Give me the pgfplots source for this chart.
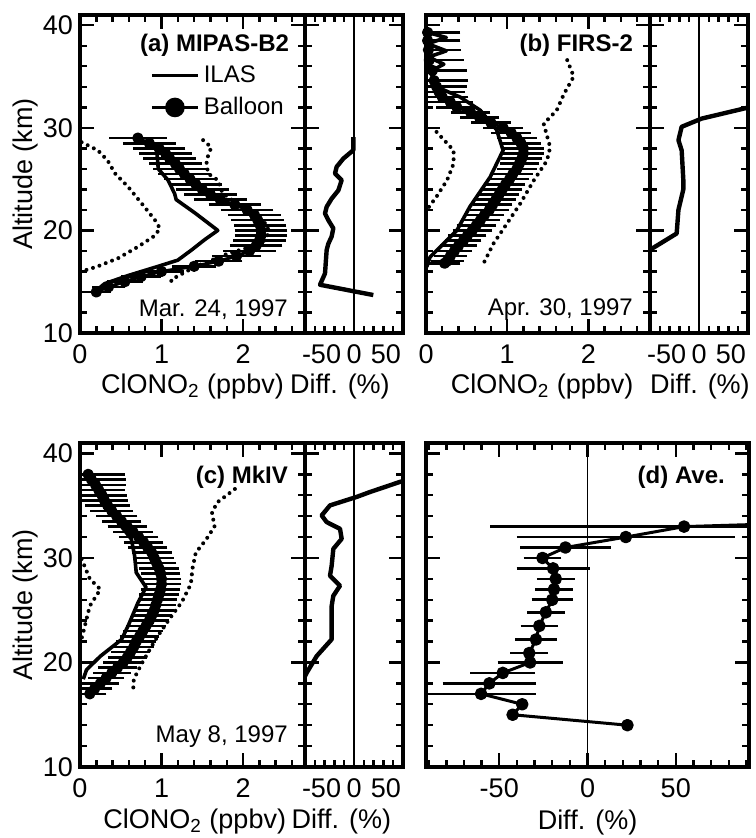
\documentclass[border=0pt]{standalone}
\usepackage{fontspec}
\setmainfont{Liberation Sans}
\usepackage{pgfplots}
\pgfplotsset{compat=1.18}
\newcommand{\tfont}{\fontsize{13.5}{15}\selectfont}
\newcommand{\afont}{\fontsize{12}{14}\selectfont}
\pgfplotsset{
  base/.style={scale only axis, ymin=10, ymax=41, tick align=inside,
    axis line style={line width=1.8pt},
    every tick/.style={line width=1.2pt, black},
    major tick length=7pt, minor tick length=3.5pt,
    ytick={10,20,30,40}, minor ytick={12,14,16,18,22,24,26,28,32,34,36,38},
    /pgf/number format/assume math mode=true,
    ticklabel style={font=\tfont},
    xticklabel style={yshift=-2.5pt}},
  noylab/.style={yticklabels={{},{},{},{}}},
  mainp/.style={base, width=112.5pt, height=#1, xmin=0, xmax=2.76, xtick={0,1,2},
    minor xtick={0.2,0.4,0.6,0.8,1.2,1.4,1.6,1.8,2.2,2.4,2.6},
    xlabel={ClONO\textsubscript{2} (ppbv)}},
  diffp/.style={base, noylab, width=49pt, height=#1, xmin=-50, xmax=50, xtick={-50,0,50},
    xticklabels={\makebox[0pt][l]{\hspace{-1.5pt}-50},0,\makebox[0pt][r]{50\hspace{1pt}}},
    minor xtick={-40,-30,-20,-10,10,20,30,40}, xlabel={Diff. (\%)}},
  ilas/.style={line width=1.8pt, black, line join=round},
  dots/.style={line width=2pt, black, dash pattern=on 0pt off 3.4pt, line cap=round},
  balloon/.style={line width=1.6pt, black, line join=round, mark=*, mark size=2pt,
    error bars/x dir=both, error bars/x explicit,
    error bars/error bar style={line width=1.3pt},
    error bars/error mark options={line width=1.3pt, mark size=5pt}},
  diffline/.style={line width=2.2pt, black, line join=round},
  zline/.style={line width=0.9pt, black},
  ylab/.style={ylabel={Altitude (km)}, every axis y label/.style={at={(rel axis cs:-0.244,0.5)}, rotate=90, anchor=center, font=\tfont}},
  xlab/.style 2 args={every axis x label/.style={at={(rel axis cs:#1,#2)}, anchor=center, font=\tfont}},
}
\begin{document}
\begin{tikzpicture}
\path[use as bounding box] (0pt,0pt) rectangle (377.5pt,419pt);
% ---------------- (a) main
\begin{axis}[mainp=159pt, at={(40pt,252.5pt)}, anchor=south west, ylab, xlab={0.5}{-0.167},
  legend style={draw=none, fill=none, at={(rel axis cs:0.31,0.855)}, anchor=north west, font=\afont, row sep=2pt, inner sep=0pt, cells={anchor=west}},
  legend image code/.code={\draw[mark repeat=2,mark phase=2,#1] plot coordinates {(0pt,0pt) (11.5pt,0pt) (23pt,0pt)};}]
\addlegendimage{line width=1.8pt, black}
\addlegendentry{ILAS}
\addlegendimage{line width=1.8pt, black, mark=*, mark size=4pt}
\addlegendentry{Balloon}
\addplot[dots, forget plot] coordinates {(0.02,28.6) (0.22,27.8) (0.34,26.8) (0.43,25.55) (0.59,24.25) (0.79,22.3) (0.92,21.0) (0.98,20.2) (0.92,19.5) (0.71,18.4) (0.47,17.3) (0.22,16.5) (0.02,16.0)};
\addplot[dots, forget plot] coordinates {(1.51,28.8) (1.61,28.1) (1.55,26.8) (1.57,25.55) (1.69,24.9) (1.75,23.6) (1.95,22.5) (2.15,21.5) (2.30,20.5) (2.31,19.7) (2.27,19.05) (2.10,18.4) (1.82,17.76) (1.41,16.45) (1.12,15.2) (1.12,14.5)};
\addplot[ilas, forget plot] coordinates {(0.85,28.6) (0.94,28.0) (0.96,26.0) (1.08,24.9) (1.16,23.6) (1.18,23.0) (1.41,21.7) (1.69,20.0) (1.53,19.1) (1.37,18.1) (1.20,17.1) (0.96,16.5) (0.59,15.6) (0.30,14.8) (0.18,14.0)};
\addplot[balloon, forget plot] coordinates {
(0.71,29.0) +- (0.23,0) (0.85,28.5) +- (0.2,0) (0.97,28.0) +- (0.2,0) (1.05,27.5) +- (0.2,0)
(1.10,27.0) +- (0.2,0) (1.17,26.5) +- (0.2,0) (1.22,26.0) +- (0.2,0) (1.28,25.5) +- (0.2,0)
(1.35,25.0) +- (0.2,0) (1.42,24.5) +- (0.2,0) (1.50,24.0) +- (0.2,0) (1.60,23.5) +- (0.2,0)
(1.72,23.0) +- (0.2,0) (1.90,22.5) +- (0.2,0) (2.05,22.0) +- (0.2,0) (2.14,21.5) +- (0.2,0)
(2.18,21.0) +- (0.2,0) (2.21,20.5) +- (0.2,0) (2.22,20.0) +- (0.2,0) (2.22,19.5) +- (0.2,0)
(2.20,19.0) +- (0.2,0) (2.16,18.5) +- (0.2,0) (2.08,18.0) +- (0.2,0) (1.92,17.5) +- (0.18,0)
(1.70,17.0) +- (0.17,0) (1.40,16.5) +- (0.15,0) (1.00,16.0) +- (0.15,0) (0.75,15.5) +- (0.12,0)
(0.55,15.0) +- (0.1,0) (0.35,14.5) +- (0.08,0) (0.20,14.0) +- (0.06,0)};
\node[font=\bfseries\afont, anchor=east] at (rel axis cs:0.96,0.906) {(a) MIPAS-B2};
\node[font=\afont, anchor=east] at (rel axis cs:0.955,0.072) {Mar. 24, 1997};
\end{axis}
% ---------------- (a) diff
\begin{axis}[diffp=159pt, at={(152.5pt,252.5pt)}, anchor=south west, xlab={0.357}{-0.167}]
\addplot[zline] coordinates {(0,10) (0,41)};
\addplot[diffline] coordinates {(-0.7,29.1) (-0.7,27.82) (-10.9,27.0) (-17.7,26.2) (-19.4,25.55) (-12.6,24.9) (-16.0,23.9) (-22.8,23.1) (-27.9,22.3) (-29.6,21.65) (-26.2,21.0) (-21.1,20.2) (-22.8,19.4) (-26.2,18.7) (-27.9,18.1) (-29.6,15.8) (-34.7,14.7) (19.7,13.7)};
\end{axis}
% ---------------- (b) main
\begin{axis}[mainp=159pt, width=112pt, at={(213pt,252.5pt)}, anchor=south west, noylab, xlab={0.518}{-0.167}]
\addplot[dots] coordinates {(0.13,29.6) (0.34,27.8) (0.34,26.5) (0.26,24.9) (0.13,23.3) (0.01,22.0)};
\addplot[dots] coordinates {(1.74,36.6) (1.82,35.0) (1.70,33.3) (1.61,31.7) (1.45,30.4) (1.53,28.1) (1.49,26.8) (1.33,24.9) (1.16,22.6) (1.0,20.7) (0.83,18.7) (0.71,16.8)};
\addplot[ilas] coordinates {(0.02,39.3) (0.25,38.8) (0.02,38.2) (0.25,37.5) (0.03,36.9) (0.22,36.2) (0.05,35.5) (0.13,34.0) (0.42,33.0) (0.67,31.7) (0.87,29.8) (0.95,27.8) (0.79,25.2) (0.54,22.3) (0.38,20.0) (0.26,19.05) (0.05,17.4) (0.01,16.45)};
\addplot[balloon] coordinates {
(0.02,39.3) +- (0.28,0) (0.02,38.5) +- (0.28,0) (0.03,37.6) +- (0.28,0) (0.04,36.6) +- (0.3,0)
(0.08,35.6) +- (0.3,0) (0.10,34.6) +- (0.3,0) (0.13,34.0) +- (0.25,0) (0.16,33.5) +- (0.2,0)
(0.20,33.0) +- (0.2,0) (0.30,32.5) +- (0.15,0) (0.38,32.0) +- (0.13,0) (0.55,31.5) +- (0.12,0)
(0.66,31.0) +- (0.12,0) (0.80,30.5) +- (0.12,0) (0.95,30.0) +- (0.12,0) (1.05,29.5) +- (0.12,0)
(1.12,29.0) +- (0.12,0) (1.17,28.5) +- (0.12,0) (1.20,28.0) +- (0.13,0) (1.20,27.5) +- (0.13,0)
(1.18,27.0) +- (0.13,0) (1.15,26.5) +- (0.12,0) (1.12,26.0) +- (0.12,0) (1.07,25.5) +- (0.12,0)
(1.03,25.0) +- (0.12,0) (0.98,24.5) +- (0.12,0) (0.94,24.0) +- (0.12,0) (0.90,23.5) +- (0.12,0)
(0.86,23.0) +- (0.12,0) (0.82,22.5) +- (0.12,0) (0.78,22.0) +- (0.12,0) (0.72,21.5) +- (0.12,0)
(0.67,21.0) +- (0.12,0) (0.62,20.5) +- (0.12,0) (0.57,20.0) +- (0.12,0) (0.51,19.5) +- (0.11,0)
(0.46,19.0) +- (0.1,0) (0.40,18.5) +- (0.1,0) (0.35,18.0) +- (0.09,0) (0.30,17.5) +- (0.08,0)
(0.26,17.0) +- (0.08,0) (0.23,16.8) +- (0.07,0)};
\node[font=\bfseries\afont, anchor=east] at (rel axis cs:0.955,0.906) {(b) FIRS-2};
\node[font=\afont, anchor=east] at (rel axis cs:0.955,0.072) {Apr. 30, 1997};
\end{axis}
% ---------------- (b) diff
\begin{axis}[diffp=159pt, at={(325pt,252.5pt)}, anchor=south west, xlab={0.51}{-0.167}]
\addplot[zline] coordinates {(0,10) (0,41)};
\addplot[diffline] coordinates {(60,32.2) (2.7,30.9) (-17.7,30.1) (-21,28.8) (-17.7,27.8) (-16,24.9) (-16,24.0) (-21,22.0) (-22.8,19.7) (-45,18.4) (-52,18.0)};
\end{axis}
% ---------------- (c) main
\begin{axis}[mainp=162pt, at={(40pt,35.5pt)}, anchor=south west, ylab, xlab={0.51}{-0.167}]
\addplot[dots] coordinates {(0.02,29.9) (0.12,28.0) (0.25,27.0) (0.12,25.4) (0.04,22.9) (0.02,22.3)};
\addplot[dots] coordinates {(1.90,36.6) (1.80,36.0) (1.68,35.3) (1.62,34.3) (1.65,33.0) (1.55,31.8) (1.42,30.5) (1.38,29.0) (1.36,27.5) (1.25,25.8) (1.10,24.2) (0.96,22.6) (0.86,21.3) (0.75,19.8) (0.66,18.4) (0.65,17.1)};
\addplot[ilas] coordinates {(0.06,38.2) (0.18,36.6) (0.30,35.0) (0.47,33.4) (0.63,31.8) (0.67,30.2) (0.69,28.6) (0.81,27.2) (0.71,25.7) (0.59,23.5) (0.51,22.2) (0.25,20.6) (0.08,19.3) (0.04,18.4)};
\addplot[balloon] coordinates {
(0.10,38.0) +- (0.33,0) (0.14,37.5) +- (0.3,0) (0.19,37.0) +- (0.25,0) (0.23,36.5) +- (0.2,0)
(0.27,36.0) +- (0.18,0) (0.30,35.5) +- (0.16,0) (0.34,35.0) +- (0.15,0) (0.39,34.5) +- (0.14,0)
(0.45,34.0) +- (0.13,0) (0.51,33.5) +- (0.12,0) (0.58,33.0) +- (0.12,0) (0.65,32.5) +- (0.12,0)
(0.72,32.0) +- (0.12,0) (0.78,31.5) +- (0.12,0) (0.83,31.0) +- (0.12,0) (0.88,30.5) +- (0.12,0)
(0.91,30.0) +- (0.12,0) (0.94,29.5) +- (0.12,0) (0.97,29.0) +- (0.12,0) (0.99,28.5) +- (0.12,0)
(1.00,28.0) +- (0.12,0) (1.00,27.5) +- (0.12,0) (0.99,27.0) +- (0.12,0) (0.97,26.5) +- (0.12,0)
(0.95,26.0) +- (0.12,0) (0.93,25.5) +- (0.12,0) (0.91,25.0) +- (0.12,0) (0.88,24.5) +- (0.12,0)
(0.85,24.0) +- (0.12,0) (0.81,23.5) +- (0.12,0) (0.77,23.0) +- (0.12,0) (0.73,22.5) +- (0.12,0)
(0.69,22.0) +- (0.12,0) (0.66,21.5) +- (0.12,0) (0.62,21.0) +- (0.12,0) (0.58,20.5) +- (0.12,0)
(0.53,20.0) +- (0.12,0) (0.46,19.5) +- (0.12,0) (0.39,19.0) +- (0.11,0) (0.32,18.5) +- (0.1,0)
(0.25,18.0) +- (0.1,0) (0.18,17.5) +- (0.09,0) (0.12,17.0) +- (0.08,0)};
\node[font=\bfseries\afont, anchor=east] at (rel axis cs:0.955,0.895) {(c) MkIV};
\node[font=\afont, anchor=east] at (rel axis cs:0.955,0.094) {May 8, 1997};
\end{axis}
% ---------------- (c) diff
\begin{axis}[diffp=162pt, at={(152.5pt,35.5pt)}, anchor=south west, xlab={0.37}{-0.167}]
\addplot[zline] coordinates {(0,10) (0,41)};
\addplot[diffline] coordinates {(60,37.6) (46.9,37.28) (16,36.3) (2.7,35.84) (-24.5,35.03) (-33,34.07) (-27.9,33.43) (-14.3,32.79) (-12.6,31.83) (-21.1,30.87) (-22.8,29.26) (-24.5,28.30) (-14.3,27.34) (-21.1,26.38) (-22.8,25.41) (-22.8,22.21) (-38.1,20.61) (-48.3,19.01) (-51.7,18.37)};
\end{axis}
% ---------------- (d)
\begin{axis}[base, noylab, width=161.5pt, height=162pt, at={(213pt,35.5pt)}, anchor=south west,
  xmin=-91.5, xmax=91.5, xtick={-50,0,50}, minor xtick={-90,-80,-70,-60,-40,-30,-20,-10,10,20,30,40,60,70,80,90},
  xlabel={Diff. (\%)}, xlab={0.5}{-0.17}]
\addplot[zline] coordinates {(0,10) (0,41)};
\addplot[draw=none, mark=none,
  error bars/x dir=both, error bars/x explicit,
  error bars/error bar style={draw=black, line width=1.3pt},
  error bars/error mark options={draw=black, line width=1.3pt, mark size=5pt}] coordinates {
(54.7,33.0) +- (104,0) (21.7,32.0) +- (56,0) (-12.5,31.0) +- (20,0)
(-25.5,30.0) +- (5,0) (-19.5,29.0) +- (15,0) (-18,28.0) +- (5,0) (-19,27.0) +- (5,0)
(-20,26.0) +- (6,0) (-23.6,24.8) +- (5,0) (-27.3,23.5) +- (5,0) (-29.2,22.2) +- (6,0)
(-33,20.9) +- (5,0) (-32.5,20.0) +- (12.7,0) (-48,19.0) +- (12.7,0) (-55.6,18.0) +- (20.8,0)
(-60.3,17.0) +- (25.4,0)};
\addplot[line width=1.5pt, black, line join=round, mark=*, mark size=2.4pt] coordinates {
(250,34.0) (54.7,33.0) (21.7,32.0) (-12.5,31.0) (-25.5,30.0) (-19.5,29.0) (-18,28.0) (-19,27.0)
(-20,26.0) (-23.6,24.8) (-27.3,23.5) (-29.2,22.2) (-33,20.9) (-32.5,20.0) (-48,19.0) (-55.6,18.0)
(-60.3,17.0) (-37,16.0) (-42.4,15.0) (22.6,14.0)};
\node[font=\bfseries\afont, anchor=east] at (rel axis cs:0.947,0.895) {(d) Ave.};
\end{axis}
\end{tikzpicture}
\end{document}
